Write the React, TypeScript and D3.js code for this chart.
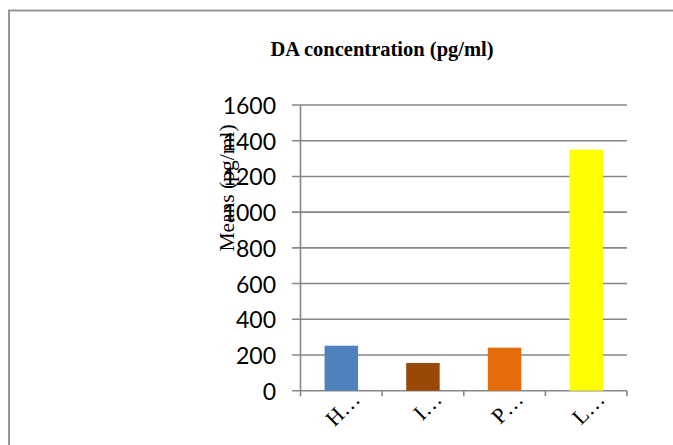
import React from "react";
import * as d3 from "d3";

// Chart data
const categories: string[] = ["H\u2026", "I\u2026", "P\u2026", "L\u2026"];
const values: number[] = [252, 155, 241, 1350];
const barColors: string[] = ["#4F81BD", "#984807", "#E46C0A", "#FFFF00"];
const yTicks: number[] = [0, 200, 400, 600, 800, 1000, 1200, 1400, 1600];

const title = "DA concentration (pg/ml)";
const yTitle = "Means (pg/ml)";

const W = 673;
const H = 445;

export default function App() {
  const plotLeft = 300.5;
  const plotRight = 627;
  const plotTop = 105;
  const plotBottom = 390.7;

  const y = d3.scaleLinear().domain([0, 1600]).range([plotBottom, plotTop]);
  const x = d3.scaleBand<string>().domain(categories).range([plotLeft, plotRight]).padding(0);
  const barW = x.bandwidth() * 0.41;

  const gridColor = "#878787";
  const serif = "'Liberation Serif', 'Times New Roman', serif";
  const sans = "Lato, Carlito, Calibri, sans-serif";

  return (
    <svg
      width={W}
      height={H}
      viewBox={`0 0 ${W} ${H}`}
      style={{ position: "absolute", left: 0, top: 0, background: "#fff" }}
    >
      {/* chart frame */}
      <rect x={9} y={10.5} width={W + 20} height={H + 20} fill="#fff" stroke="#8c8c8c" strokeWidth={1.8} />

      <text x={382} y={56} textAnchor="middle" fontFamily={serif} fontWeight="bold" fontSize={20.5} fill="#000">
        {title}
      </text>

      {/* horizontal gridlines with left tick stubs */}
      {yTicks.map((t) => (
        <line key={`g${t}`} x1={292} x2={plotRight} y1={y(t)} y2={y(t)} stroke={gridColor} strokeWidth={1.6} />
      ))}

      {/* y-axis line */}
      <line x1={plotLeft} x2={plotLeft} y1={plotTop} y2={plotBottom + 5.5} stroke={gridColor} strokeWidth={1.6} />

      {/* x-axis category ticks */}
      {categories.map((c) => (
        <line
          key={`xt${c}`}
          x1={(x(c) as number) + x.bandwidth()}
          x2={(x(c) as number) + x.bandwidth()}
          y1={plotBottom}
          y2={plotBottom + 5.5}
          stroke={gridColor}
          strokeWidth={1.6}
        />
      ))}

      {/* bars */}
      {categories.map((c, i) => (
        <rect
          key={`b${c}`}
          x={(x(c) as number) + (x.bandwidth() - barW) / 2}
          y={y(values[i])}
          width={barW}
          height={y(0) - y(values[i])}
          fill={barColors[i]}
        />
      ))}

      {/* y tick labels */}
      {yTicks.map((t) => (
        <text
          key={`yl${t}`}
          x={276}
          y={y(t)}
          textAnchor="end"
          dominantBaseline="central"
          fontFamily={sans}
          fontSize={23}
          fill="#000"
        >
          {t}
        </text>
      ))}

      {/* y-axis title */}
      <text
        transform={`translate(234, 188) rotate(-90)`}
        textAnchor="middle"
        fontFamily={serif}
        fontSize={21.5}
        fill="#000"
      >
        {yTitle}
      </text>

      {/* rotated category labels */}
      {categories.map((c) => {
        const cx = (x(c) as number) + x.bandwidth() / 2 + 20;
        const cy = plotBottom + 10;
        return (
          <text
            key={`xl${c}`}
            transform={`translate(${cx}, ${cy}) rotate(-45)`}
            textAnchor="end"
            fontFamily={serif}
            fontSize={22}
            fill="#000"
          >
            {c}
          </text>
        );
      })}
    </svg>
  );
}
